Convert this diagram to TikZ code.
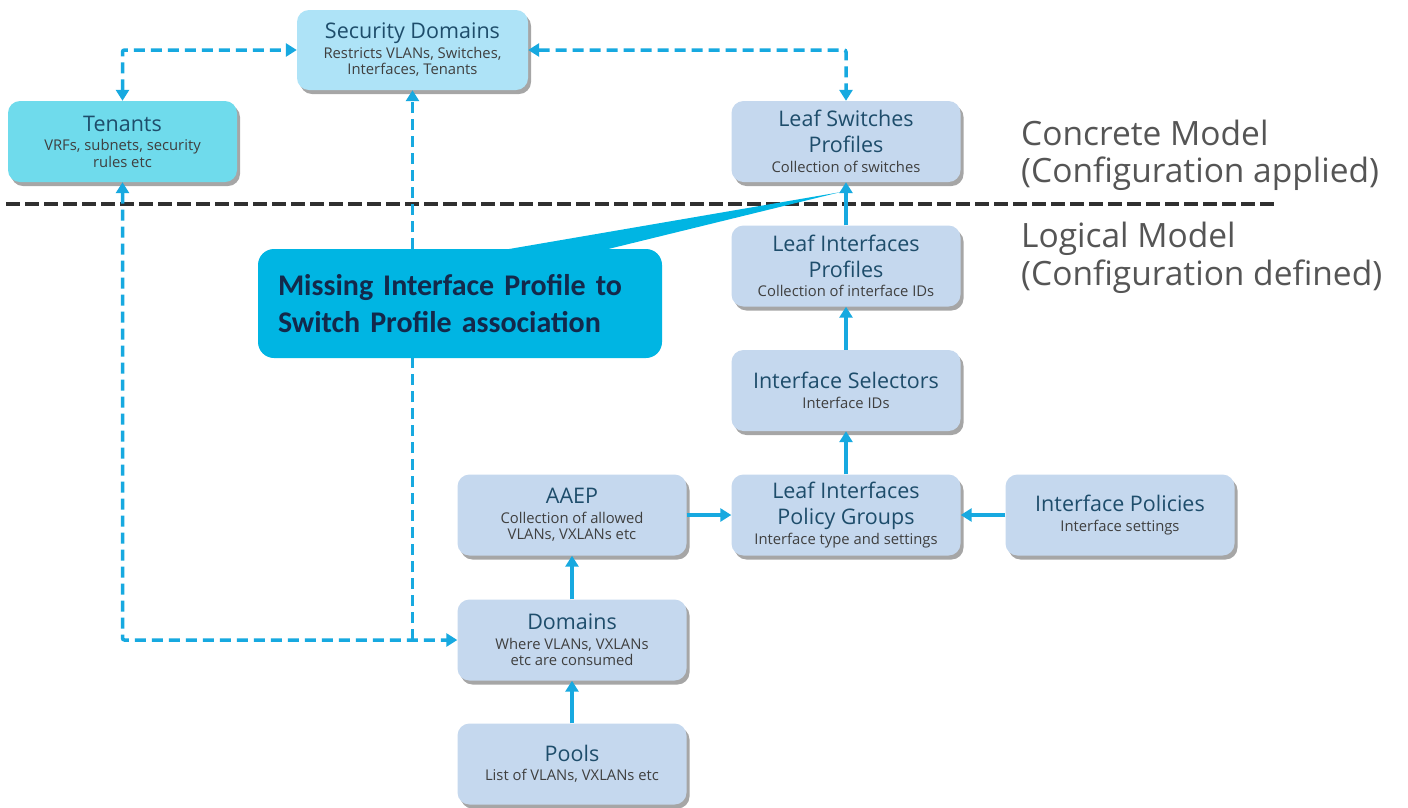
\documentclass[tikz,border=0pt]{standalone}
\usepackage{fontspec}
\setmainfont{Open Sans}
\newfontfamily\callfont{Carlito}
\usetikzlibrary{arrows.meta,shadows,calc}
\definecolor{boxc}{HTML}{C5D8EE}
\definecolor{sdc}{HTML}{AEE3F7}
\definecolor{tenc}{HTML}{6FDBEC}
\definecolor{callc}{HTML}{00B5E3}
\definecolor{arrc}{HTML}{17A9E0}
\definecolor{titlec}{HTML}{1E4D6B}
\definecolor{subc}{HTML}{3F3F3F}
\definecolor{callt}{HTML}{13294B}
\definecolor{labc}{HTML}{555555}
\definecolor{divc}{HTML}{303030}
\newcommand\bx[2]{\begin{minipage}{224pt}\centering\color{titlec}\fontsize{21.5}{26}\selectfont #1\par\vspace{3pt}\color{subc}\fontsize{14.8}{16.5}\selectfont #2\par\end{minipage}}
\tikzset{
  box/.style={fill=boxc, rounded corners=12pt, minimum width=229pt, minimum height=81pt, inner sep=0pt,
    drop shadow={shadow xshift=3pt, shadow yshift=-4pt, fill=black, opacity=0.35}},
  tip/.tip={Triangle[length=11pt,width=13pt]},
  conn/.style={draw=arrc, line width=3.5pt, -tip},
  dconn/.style={draw=arrc, line width=3.5pt, dash pattern=on 11pt off 6pt, rounded corners=2pt},
  lab/.style={anchor=base west, inner sep=0pt, text=labc, font=\fontsize{33.5}{40}\selectfont},
  callbox/.style={fill=callc, rounded corners=16pt, minimum width=404pt, minimum height=109pt,
    text width=364pt, inner xsep=20pt, inner ysep=0pt, align=left, text=callt,
    font=\callfont\bfseries\fontsize{30}{37}\selectfont},
}
\begin{document}
\begin{tikzpicture}[x=1pt,y=-1pt]
\useasboundingbox (0,0) rectangle (1408,807);
\fill[white] (0,0) rectangle (1408,807);

% boxes
\node[box, fill=sdc, minimum width=231pt, minimum height=80pt] (sd) at (412.5,50) {\bx{Security Domains}{Restricts VLANs, Switches,\\Interfaces, Tenants}};
\node[box, fill=tenc] (ten) at (122.5,141.5) {\bx{Tenants}{VRFs, subnets, security\\rules etc}};
\node[box] (lsp) at (846,141.5) {\bx{Leaf Switches\\Profiles}{Collection of switches}};
\node[box] (lip) at (846,266) {\bx{Leaf Interfaces\\Profiles}{Collection of interface IDs}};
\node[box] (is) at (846,390.5) {\bx{Interface Selectors}{Interface IDs}};
\node[box] (lipg) at (846,515) {\bx{Leaf Interfaces\\Policy Groups}{Interface type and settings}};
\node[box] (ip) at (1120,515) {\bx{Interface Policies}{Interface settings}};
\node[box] (aaep) at (572,515) {\bx{AAEP}{Collection of allowed\\VLANs, VXLANs etc}};
\node[box] (dom) at (572,640) {\bx{Domains}{Where VLANs, VXLANs\\etc are consumed}};
\node[box] (pools) at (572,764) {\bx{Pools}{List of VLANs, VXLANs etc}};

% divider
\coordinate (dl) at (6,204);
\coordinate (dr) at (1277,204);
\draw[divc, line width=4.5pt, dash pattern=on 14pt off 5pt] (dl) -- (dr);

% labels
\node[lab] (l1) at (1021,145) {Concrete Model};
\node[lab] (l2) at (1021,182) {(Configuration applied)};
\node[lab] (l3) at (1021,247) {Logical Model};
\node[lab] (l4) at (1021,285) {(Configuration defined)};

% dashed connectors
\draw[dconn, tip-tip] (ten.north) |- (sd.west);
\draw[dconn, tip-tip] (sd.east) -| (lsp.north);
\draw[dconn, tip-tip] (ten.south) |- (dom.west);
\coordinate (j) at (sd.south |- dom.west);
\draw[dconn, -tip] (j) -- (sd.south);

% solid connectors
\draw[conn] (lip.north) -- (lsp.south);
\draw[conn] (is.north) -- (lip.south);
\draw[conn] (lipg.north) -- (is.south);
\draw[conn] (aaep.east) -- (lipg.west);
\draw[conn] (ip.west) -- (lipg.east);
\draw[conn] (dom.north) -- (aaep.south);
\draw[conn] (pools.north) -- (dom.south);

% callout
\node[callbox] (co) at (460,303.5) {Missing Interface Profile to\\Switch Profile association};
\coordinate (tipc) at ($(lsp.south)+(-6,10)$);
\fill[callc] ($(co.north west)+(235,3)$) -- (tipc) -- ($(co.north west)+(339,3)$) -- cycle;
\end{tikzpicture}
\end{document}
